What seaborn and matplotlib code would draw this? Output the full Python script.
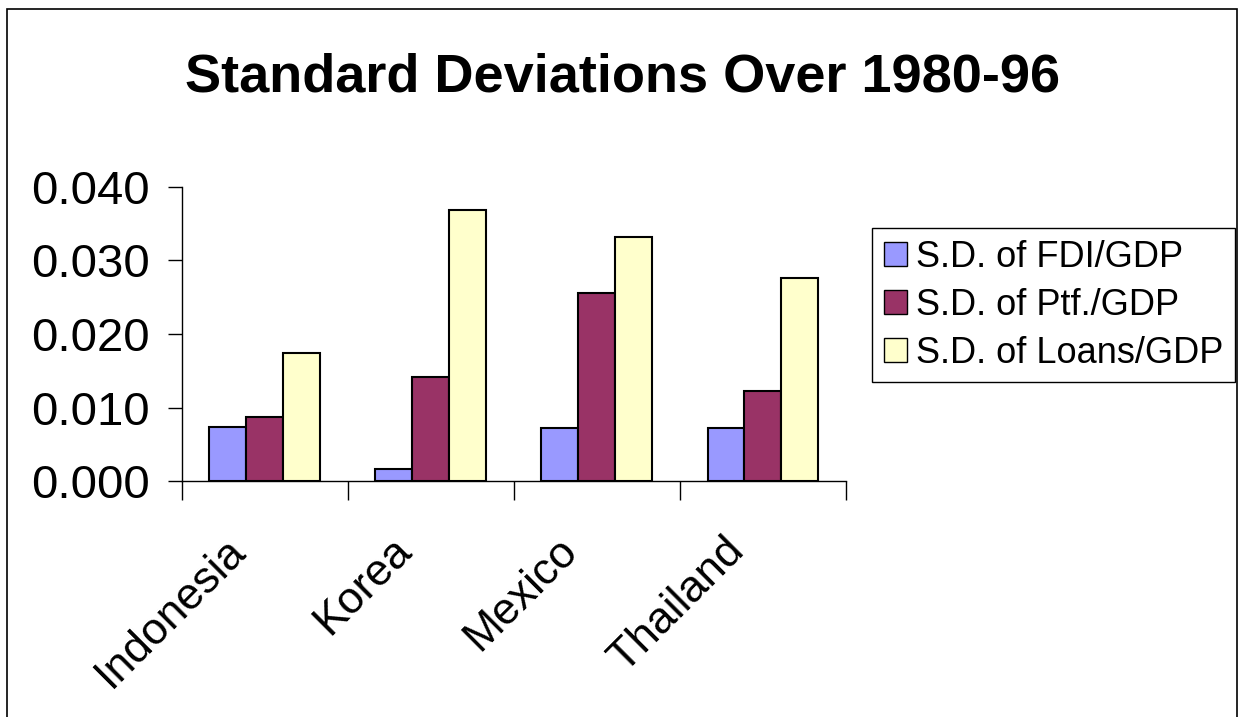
import pandas as pd
import seaborn as sns
import matplotlib.pyplot as plt
from matplotlib.patches import Rectangle
from matplotlib.transforms import ScaledTranslation

countries = ["Indonesia", "Korea", "Mexico", "Thailand"]
series = ["S.D. of FDI/GDP", "S.D. of Ptf./GDP", "S.D. of Loans/GDP"]
fdi = [0.0074, 0.0017, 0.0072, 0.0072]
ptf = [0.0087, 0.0141, 0.0256, 0.0122]
loans = [0.0174, 0.0369, 0.0332, 0.0276]
colors = ["#9999FF", "#993366", "#FFFFCC"]

rows = []
for name, vals in zip(series, [fdi, ptf, loans]):
    for c, v in zip(countries, vals):
        rows.append({"Country": c, "Series": name, "Value": v})
df = pd.DataFrame(rows)

sns.set_theme(style="white")
plt.rcParams['font.family'] = ['Liberation Sans', 'DejaVu Sans']
plt.rcParams['text.color'] = 'black'
plt.rcParams['xtick.color'] = 'black'
plt.rcParams['ytick.color'] = 'black'
plt.rcParams['axes.labelcolor'] = 'black'

fig = plt.figure(figsize=(12.45, 7.17), dpi=100)
ax = fig.add_axes([0.1458, 0.3287, 0.5337, 0.4109])

sns.barplot(data=df, x="Country", y="Value", hue="Series", palette=colors,
            width=2/3, gap=0, edgecolor="black", linewidth=1.5, ax=ax,
            saturation=1, legend=True)

ax.set_ylim(0, 0.04)
ax.set_xlim(-0.5, 3.5)
ax.set_yticks([0.0, 0.01, 0.02, 0.03, 0.04])
ax.set_yticklabels(["%.3f" % t for t in ax.get_yticks()], fontsize=34)
ax.set_xlabel("")
ax.set_ylabel("")

# category boundary ticks on the x axis
ax.set_xticks([-0.5, 0.5, 1.5, 2.5, 3.5], minor=True)
ax.tick_params(axis="x", which="minor", length=14, width=1, color="black", direction="out", bottom=True)
ax.tick_params(axis="x", which="major", length=0, pad=8)
ax.tick_params(axis="y", length=10, width=1, color="black", direction="out", left=True, pad=13)
ax.set_xticks(range(len(countries)))
ax.set_xticklabels(countries, rotation=45, ha="right", rotation_mode="anchor", fontsize=32)
shift = ScaledTranslation(-0.40, -0.37, fig.dpi_scale_trans)
for lab in ax.get_xticklabels():
    lab.set_transform(lab.get_transform() + shift)

for side in ["top", "right"]:
    ax.spines[side].set_visible(False)
for side in ["left", "bottom"]:
    ax.spines[side].set_color("black")
    ax.spines[side].set_linewidth(1)

ax.legend_.remove()
handles = [Rectangle((0, 0), 1, 1, facecolor=c, edgecolor="black", linewidth=1) for c in colors]
leg = fig.legend(handles, series, loc="upper left", bbox_to_anchor=(872/1245, 1 - 228/717),
                 bbox_transform=fig.transFigure, fontsize=26, frameon=True, fancybox=False,
                 edgecolor="black", framealpha=1, handlelength=0.64, handleheight=0.64,
                 handletextpad=0.25, labelspacing=0.36, borderpad=0.32, borderaxespad=0)
leg.get_frame().set_linewidth(1)

fig.text(0.5, 1 - 91/717, "Standard Deviations Over 1980-96", ha="center", va="baseline",
         fontsize=39, fontweight="bold")

fig.add_artist(Rectangle((7/1245, -0.05), (1237-7)/1245, 1.05 - 9/717, fill=False,
                         edgecolor="black", linewidth=1.2, transform=fig.transFigure,
                         clip_on=False))

fig.savefig("out.png", dpi=100)
